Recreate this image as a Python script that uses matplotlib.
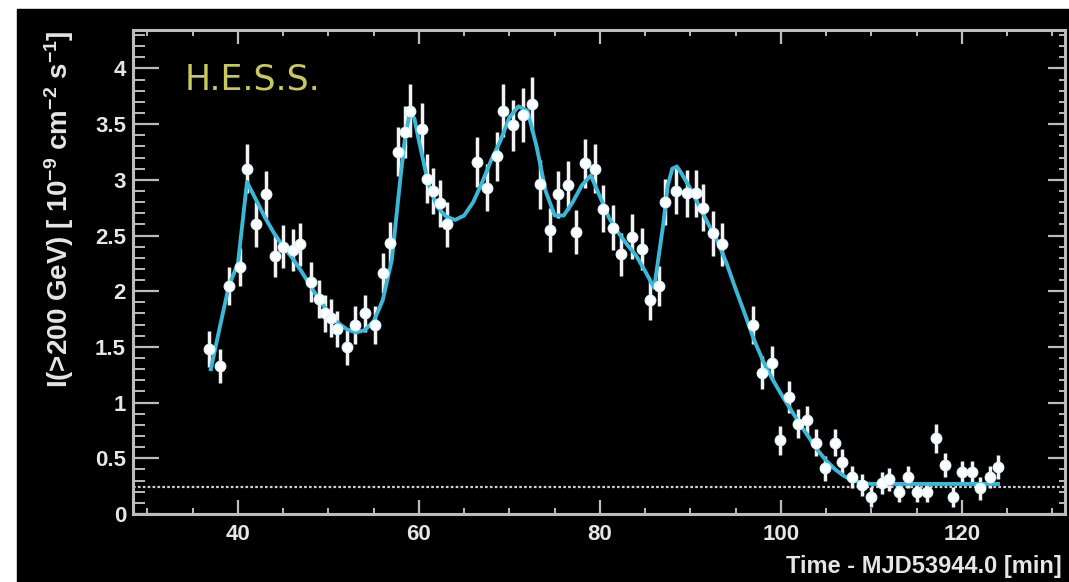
import matplotlib
matplotlib.use("Agg")
import matplotlib.pyplot as plt
from matplotlib.patches import Rectangle
from matplotlib.ticker import MultipleLocator, FixedLocator

plt.rcParams['font.family'] = ['Liberation Sans', 'DejaVu Sans']
plt.rcParams['mathtext.fontset'] = 'custom'
plt.rcParams['mathtext.rm'] = 'Liberation Sans:bold'
plt.rcParams['mathtext.it'] = 'Liberation Sans:bold'
plt.rcParams['mathtext.bf'] = 'Liberation Sans:bold'

# measured flux points (time in min, flux, error)
t_data = [36.8, 38.0, 39.0, 40.2, 41.0, 42.0, 43.1, 44.1, 45.0, 46.1, 46.9, 48.1,
          49.0, 49.6, 50.3, 51.0, 52.0, 52.9, 54.0, 55.1, 56.0, 56.8, 57.7, 58.5,
          59.0, 60.3, 60.9, 61.5, 62.3, 63.1, 66.4, 67.5, 68.6, 69.3, 70.4, 71.5,
          72.5, 73.4, 74.5, 75.4, 76.5, 77.4, 78.3, 79.5, 80.3, 81.4, 82.3, 83.5,
          84.6, 85.5, 86.5, 87.2, 88.4, 89.6, 90.6, 91.4, 92.5, 93.5, 96.9, 97.9,
          99.0, 99.9, 100.9, 101.9, 102.9, 103.9, 104.9, 106.0, 106.8, 107.9, 109.0, 110.0,
          111.2, 112.0, 113.1, 114.0, 115.0, 116.1, 117.1, 118.1, 119.0, 120.0, 121.1, 122.0,
          123.1, 124.0]
flux = [1.48, 1.33, 2.05, 2.22, 3.10, 2.60, 2.87, 2.32, 2.40, 2.37, 2.42, 2.08,
        1.93, 1.80, 1.76, 1.66, 1.50, 1.70, 1.80, 1.70, 2.16, 2.43, 3.25, 3.43,
        3.62, 3.46, 3.01, 2.90, 2.79, 2.60, 3.16, 2.93, 3.21, 3.62, 3.49, 3.58,
        3.68, 2.96, 2.55, 2.87, 2.95, 2.53, 3.15, 3.10, 2.74, 2.57, 2.33, 2.49,
        2.38, 1.92, 2.05, 2.80, 2.90, 2.88, 2.88, 2.75, 2.52, 2.42, 1.70, 1.27,
        1.36, 0.66, 1.05, 0.81, 0.84, 0.64, 0.41, 0.64, 0.47, 0.33, 0.26, 0.15,
        0.28, 0.31, 0.20, 0.33, 0.20, 0.20, 0.68, 0.44, 0.15, 0.38, 0.38, 0.23,
        0.33, 0.42]
flux_err = [0.16, 0.15, 0.17, 0.17, 0.22, 0.20, 0.21, 0.19, 0.19, 0.19, 0.19, 0.18,
            0.17, 0.17, 0.17, 0.16, 0.16, 0.17, 0.17, 0.17, 0.18, 0.19, 0.22, 0.23,
            0.24, 0.23, 0.22, 0.21, 0.21, 0.20, 0.22, 0.21, 0.22, 0.24, 0.23, 0.24,
            0.24, 0.22, 0.20, 0.21, 0.22, 0.20, 0.22, 0.22, 0.21, 0.20, 0.19, 0.20,
            0.19, 0.18, 0.18, 0.21, 0.21, 0.21, 0.21, 0.21, 0.20, 0.19, 0.17, 0.15,
            0.15, 0.13, 0.14, 0.13, 0.13, 0.12, 0.11, 0.12, 0.11, 0.10, 0.10, 0.09,
            0.10, 0.10, 0.09, 0.10, 0.09, 0.09, 0.13, 0.11, 0.09, 0.10, 0.10, 0.10,
            0.10, 0.11]

# fitted model curve
t_fit = [37, 38, 39, 40, 41, 42, 43, 44, 45, 46, 47, 48, 49, 50, 51, 52, 53, 54, 55,
         56, 57, 58, 58.5, 59, 59.5, 60, 61, 62, 63, 64, 65, 66, 67, 68, 69, 70, 71,
         72, 73, 74, 75, 76, 77, 78, 79, 80, 81, 82, 83, 84, 85, 86, 87, 87.5, 88,
         88.5, 89, 90, 91, 92, 93, 94, 95, 96, 97, 98, 99, 100, 101, 102, 103, 104,
         105, 106, 107, 108, 109, 110, 112, 114, 116, 118, 120, 122, 124]
flux_fit = [1.30, 1.68, 2.05, 2.25, 2.98, 2.82, 2.66, 2.52, 2.40, 2.30, 2.18, 2.05,
            1.92, 1.81, 1.72, 1.66, 1.63, 1.65, 1.73, 1.92, 2.28, 3.05, 3.40, 3.60,
            3.55, 3.35, 2.98, 2.76, 2.67, 2.64, 2.68, 2.80, 2.98, 3.18, 3.35, 3.56,
            3.66, 3.62, 3.30, 2.90, 2.68, 2.68, 2.80, 2.95, 3.04, 2.85, 2.66, 2.53,
            2.42, 2.32, 2.18, 2.03, 2.60, 2.95, 3.10, 3.12, 3.06, 2.92, 2.76, 2.60,
            2.45, 2.25, 2.02, 1.80, 1.57, 1.38, 1.22, 1.08, 0.95, 0.82, 0.70, 0.58,
            0.48, 0.40, 0.34, 0.30, 0.28, 0.27, 0.27, 0.27, 0.27, 0.27, 0.27, 0.27, 0.27]

baseline = 0.24
x_ticks = [40, 60, 80, 100, 120]
y_ticks = [0, 0.5, 1, 1.5, 2, 2.5, 3, 3.5, 4]
y_tick_labels = ['0', '0.5', '1', '1.5', '2', '2.5', '3', '3.5', '4']

W, H = 1069, 582
fig = plt.figure(figsize=(W / 100, H / 100), dpi=100)
fig.patch.set_facecolor('white')
fig.add_artist(Rectangle((17 / W, 0), 1 - 17 / W, (H - 9) / H,
                         transform=fig.transFigure, color='black', zorder=-10))

ax = fig.add_axes([133 / W, (H - 514) / H, (1065 - 133) / W, (514 - 30) / H])
ax.set_facecolor('black')

axis_col = '#bcbcbc'
text_col = '#e6e6e6'
cyan = '#3ab8d8'

ax.axhline(baseline, color='#cfcfcf', lw=1.6, ls=(0, (1.2, 1.0)), zorder=1)

ax.errorbar(t_data, flux, yerr=flux_err, fmt='none', ecolor='#f2f2f2',
            elinewidth=2.5, capsize=0, zorder=2)
ax.plot(t_fit, flux_fit, color=cyan, lw=2.8, zorder=3)
ax.plot(t_data, flux, 'o', color='white', ms=7.5, mec='#e0f6ff', zorder=4)

ax.text(0.055, 0.897, 'H.E.S.S.', transform=ax.transAxes, color='#c8c85c',
        fontsize=25, family='DejaVu Sans', ha='left', va='center')

ax.set_xlim(28.4, 131.4)
ax.set_ylim(0, 4.345)

ax.xaxis.set_major_locator(FixedLocator(x_ticks))
ax.xaxis.set_minor_locator(MultipleLocator(5))
ax.set_yticks(y_ticks)
ax.set_yticklabels(y_tick_labels)
ax.yaxis.set_minor_locator(MultipleLocator(0.1))

ax.tick_params(axis='x', which='major', direction='in', length=10, width=1.6,
               color=axis_col, top=True, labelsize=16, labelcolor=text_col, pad=7)
ax.tick_params(axis='x', which='minor', direction='in', length=4.5, width=1.4,
               color=axis_col, top=True)
ax.tick_params(axis='y', which='major', direction='in', length=19, width=1.6,
               color=axis_col, right=False, labelsize=16, labelcolor=text_col, pad=5)
ax.tick_params(axis='y', which='minor', direction='in', length=8.5, width=1.4,
               color=axis_col, right=False)
for lab in ax.get_xticklabels() + ax.get_yticklabels():
    lab.set_fontweight('bold')

sec = ax.secondary_yaxis('right')
sec.set_yticks(y_ticks)
sec.yaxis.set_minor_locator(MultipleLocator(0.1))
sec.tick_params(axis='y', which='major', direction='in', length=12, width=1.6,
                color=axis_col, labelright=False)
sec.tick_params(axis='y', which='minor', direction='in', length=4, width=1.4,
                color=axis_col)
sec.spines['right'].set_color(axis_col)
sec.spines['right'].set_linewidth(2)

for s in ax.spines.values():
    s.set_color(axis_col)
    s.set_linewidth(2.2)

ax.set_ylabel(r'I(>200 GeV) [ 10$^{-9}$ cm$^{-2}$ s$^{-1}$]', color=text_col,
              fontsize=20, fontweight='bold', loc='top')
ax.yaxis.set_label_coords((76 - 133) / 932, 1.0)

ax.set_xlabel('Time - MJD53944.0 [min]', color=text_col, fontsize=17,
              fontweight='bold', loc='right')
ax.xaxis.set_label_coords((1062 - 133) / 932, (514 - 567) / 484)
ax.xaxis.label.set_verticalalignment('center')

fig.savefig('out.png', dpi=100, facecolor=fig.get_facecolor())
